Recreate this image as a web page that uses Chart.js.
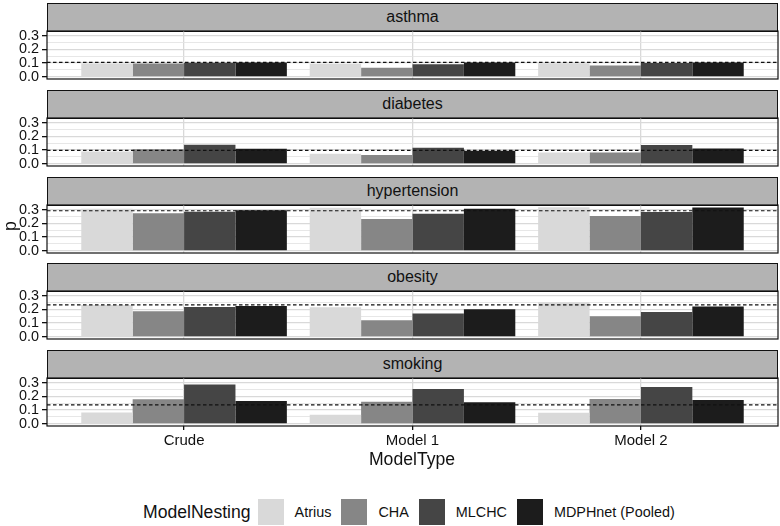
<!DOCTYPE html>
<html>
<head>
<meta charset="utf-8">
<script src="https://cdn.jsdelivr.net/npm/chart.js@4.4.1/dist/chart.umd.min.js"></script>
<style>
    body { margin: 0; background: #fff; font-family: "Liberation Sans", Arial, sans-serif; }
    #wrap { position: relative; width: 780px; height: 526px; overflow: hidden; }
    #wrap canvas { position: absolute; left: 0; }
    .strip {
        position: absolute; left: 47px; width: 731px; height: 29px; box-sizing: border-box;
        background: #b3b3b3; border: 1.2px solid #111;
        text-align: center; font-size: 16px; line-height: 26px; color: #111;
    }
    .axis-title { position: absolute; font-size: 17.6px; color: #111; line-height: 20px; }
    #legend { position: absolute; left: 143px; top: 499px; display: flex; align-items: center; height: 26px; color: #111; }
    #legend .title { font-size: 17.6px; margin-right: 7px; }
    #legend .key { width: 26px; height: 26px; margin-right: 11px; }
    #legend .lab { font-size: 14.4px; margin-right: 10px; }
</style>
</head>
<body>
<div id="wrap"></div>
<script>
// Facet / axis categories
const outcomes = ['asthma', 'diabetes', 'hypertension', 'obesity', 'smoking'];
const modelTypes = ['Crude', 'Model 1', 'Model 2'];
const nestings = ['Atrius', 'CHA', 'MLCHC', 'MDPHnet (Pooled)'];
const nestingColors = ['#d9d9d9', '#868686', '#454545', '#1c1c1c'];
const yTickValues = [0, 0.05, 0.1, 0.15, 0.2, 0.25, 0.3];

// p per outcome: one row per nesting, values for Crude / Model 1 / Model 2
const asthmaP       = [[0.097, 0.096, 0.099], [0.097, 0.067, 0.082], [0.102, 0.091, 0.101], [0.105, 0.104, 0.105]];
const diabetesP     = [[0.090, 0.074, 0.083], [0.107, 0.064, 0.083], [0.140, 0.117, 0.138], [0.110, 0.095, 0.112]];
const hypertensionP = [[0.307, 0.314, 0.319], [0.275, 0.232, 0.254], [0.285, 0.271, 0.283], [0.297, 0.307, 0.317]];
const obesityP      = [[0.233, 0.217, 0.252], [0.187, 0.121, 0.150], [0.218, 0.171, 0.181], [0.226, 0.202, 0.221]];
const smokingP      = [[0.083, 0.067, 0.081], [0.180, 0.162, 0.181], [0.287, 0.255, 0.269], [0.167, 0.157, 0.174]];
const panelValues = [asthmaP, diabetesP, hypertensionP, obesityP, smokingP];

// dashed reference line per outcome
const referenceP = [0.105, 0.098, 0.293, 0.234, 0.138];

const FONT = '"Liberation Sans", Arial, sans-serif';
const wrap = document.getElementById('wrap');

// draw the black panel frame around the plot area
const panelFrame = {
    id: 'panelFrame',
    afterDraw(chart) {
        const { ctx, chartArea: a } = chart;
        ctx.save();
        ctx.strokeStyle = '#111';
        ctx.lineWidth = 1.2;
        ctx.strokeRect(a.left, a.top, a.right - a.left, a.bottom - a.top);
        ctx.restore();
    }
};

const isMajor = v => Math.abs(v * 10 - Math.round(v * 10)) < 1e-6;

function makePanel(i) {
    const last = i === outcomes.length - 1;
    const stripTop = 3 + 86.75 * i;
    const padTop = 14;
    const bottomH = last ? 40 : 14;

    const strip = document.createElement('div');
    strip.className = 'strip';
    strip.style.top = stripTop + 'px';
    strip.textContent = outcomes[i];
    wrap.appendChild(strip);

    const canvas = document.createElement('canvas');
    canvas.width = 780;
    canvas.height = padTop + 48 + bottomH;
    canvas.style.top = (stripTop + 28 - padTop) + 'px';
    wrap.appendChild(canvas);

    const datasets = nestings.map((name, k) => ({
        type: 'bar',
        label: name,
        data: modelTypes.map((m, j) => ({ x: j + 1, y: panelValues[i][k][j] })),
        backgroundColor: nestingColors[k],
        borderWidth: 0,
        categoryPercentage: 0.9,
        barPercentage: 1.0,
        order: 1
    }));
    datasets.push({
        type: 'line',
        label: 'reference',
        data: [{ x: 0.4, y: referenceP[i] }, { x: 3.6, y: referenceP[i] }],
        borderColor: '#111',
        borderWidth: 1.2,
        borderDash: [3.5, 2.5],
        pointRadius: 0,
        fill: false,
        order: 0
    });

    new Chart(canvas.getContext('2d'), {
        type: 'bar',
        data: { datasets },
        plugins: [panelFrame],
        options: {
            animation: false,
            responsive: false,
            devicePixelRatio: 1,
            layout: { padding: { top: padTop, right: 2, left: 0, bottom: 0 } },
            plugins: { legend: { display: false }, tooltip: { enabled: false } },
            scales: {
                x: {
                    type: 'linear',
                    min: 0.4,
                    max: 3.6,
                    offset: false,
                    afterBuildTicks: s => { s.ticks = modelTypes.map((m, j) => ({ value: j + 1 })); },
                    afterFit: s => { s.height = bottomH; },
                    grid: {
                        offset: false,
                        color: '#d9d9d9',
                        lineWidth: 1.3,
                        drawTicks: last,
                        tickLength: 4,
                        tickColor: '#111',
                        tickWidth: 1.3
                    },
                    border: { display: false },
                    ticks: {
                        display: last,
                        autoSkip: false,
                        maxRotation: 0,
                        padding: 2,
                        color: '#111',
                        font: { size: 15, family: FONT },
                        callback: v => modelTypes[Math.round(v) - 1] || ''
                    }
                },
                y: {
                    min: -0.016,
                    max: 0.335,
                    afterBuildTicks: s => { s.ticks = yTickValues.map(v => ({ value: v })); },
                    afterFit: s => { s.width = 47; },
                    grid: {
                        color: c => isMajor(c.tick.value) ? '#d9d9d9' : '#e4e4e4',
                        lineWidth: c => isMajor(c.tick.value) ? 1.3 : 0.9,
                        drawTicks: true,
                        tickLength: 5,
                        tickColor: c => isMajor(c.tick.value) ? '#111' : 'rgba(0,0,0,0)',
                        tickWidth: 1.3
                    },
                    border: { display: false },
                    ticks: {
                        autoSkip: false,
                        padding: 3,
                        color: '#111',
                        font: { size: 14.4, family: FONT },
                        callback: v => isMajor(v) ? v.toFixed(1) : ''
                    }
                }
            }
        }
    });
}

outcomes.forEach((o, i) => makePanel(i));

// axis titles
const xTitle = document.createElement('div');
xTitle.className = 'axis-title';
xTitle.textContent = 'ModelType';
xTitle.style.left = '312px';
xTitle.style.width = '200px';
xTitle.style.textAlign = 'center';
xTitle.style.top = '449px';
wrap.appendChild(xTitle);

const yTitle = document.createElement('div');
yTitle.className = 'axis-title';
yTitle.textContent = 'p';
yTitle.style.left = '-40px';
yTitle.style.width = '100px';
yTitle.style.textAlign = 'center';
yTitle.style.top = '216px';
yTitle.style.transform = 'rotate(-90deg)';
wrap.appendChild(yTitle);

// legend
const legend = document.createElement('div');
legend.id = 'legend';
legend.innerHTML = '<span class="title">ModelNesting</span>' +
    nestings.map((n, k) => `<span class="key" style="background:${nestingColors[k]}"></span><span class="lab">${n}</span>`).join('');
wrap.appendChild(legend);
</script>
</body>
</html>
